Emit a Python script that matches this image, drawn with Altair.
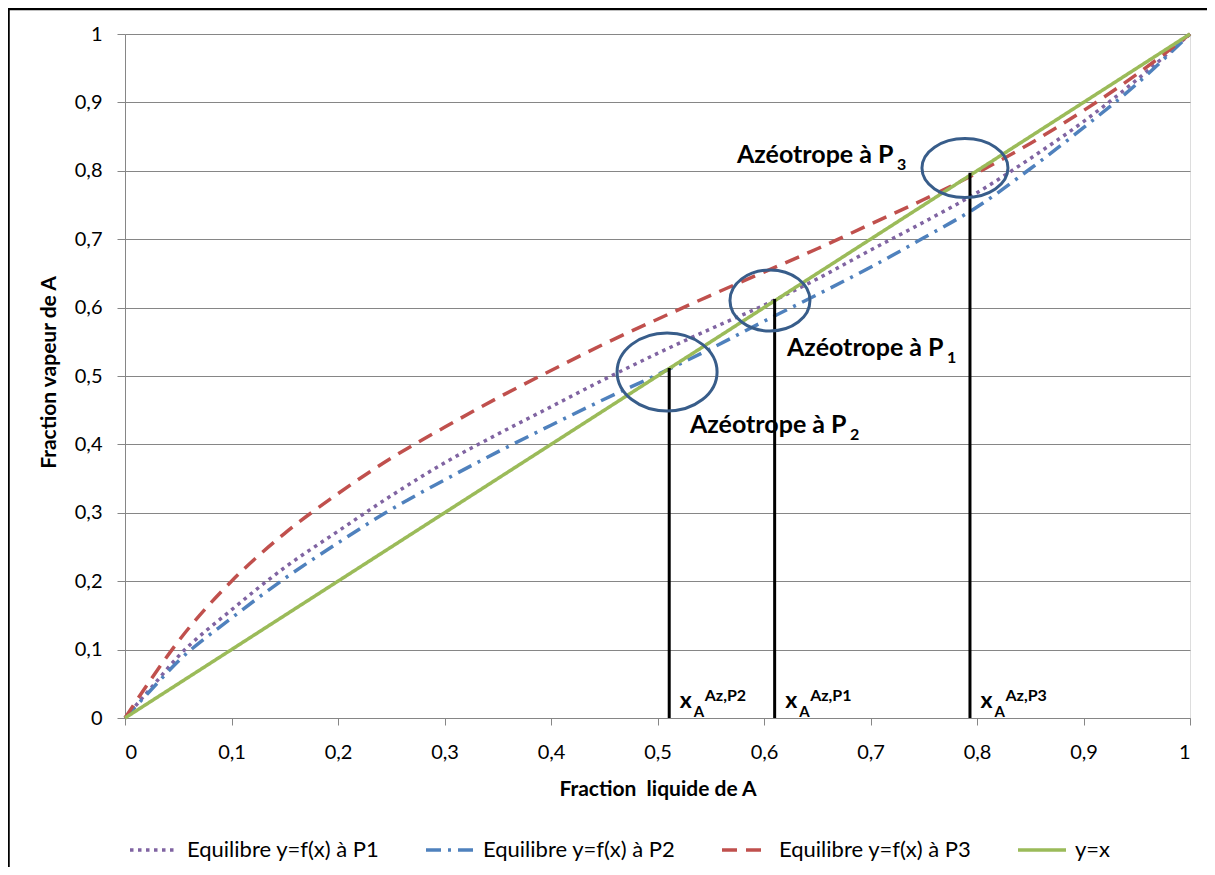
import altair as alt
import pandas as pd

# ---------------- data ----------------
x_eq = [0, 0.025, 0.05, 0.1, 0.15, 0.2, 0.25, 0.3, 0.35, 0.4, 0.45, 0.5,
        0.55, 0.6, 0.65, 0.7, 0.75, 0.8, 0.85, 0.9, 0.95, 1]
y_p1 = [0, 0.045, 0.09, 0.158, 0.220, 0.273, 0.325, 0.373, 0.415, 0.455, 0.495, 0.533,
        0.569, 0.6035, 0.642, 0.684, 0.725, 0.768, 0.818, 0.872, 0.933, 1]
y_p2 = [0, 0.042, 0.083, 0.146, 0.204, 0.256, 0.305, 0.348, 0.389, 0.428, 0.466, 0.502,
        0.540, 0.580, 0.619, 0.659, 0.702, 0.747, 0.803, 0.863, 0.927, 1]
y_p3 = [0, 0.058, 0.112, 0.200, 0.270, 0.328, 0.380, 0.425, 0.468, 0.508, 0.547, 0.583,
        0.618, 0.652, 0.686, 0.722, 0.758, 0.797, 0.840, 0.888, 0.941, 1]
x_id = [0, 1]
y_id = [0, 1]

series_names = ["Equilibre y=f(x) à P1", "Equilibre y=f(x) à P2",
                "Equilibre y=f(x) à P3", "y=x"]
series_colors = ["#8064A2", "#4F81BD", "#C0504D", "#9BBB59"]
series_dash = [[3.5, 4.5], [15, 7, 3, 7], [15, 9], [1, 0]]

# azeotrope annotations
az_x = [0.511, 0.610, 0.7934]
az_y = [0.5117, 0.6126, 0.797]
az_sup = ["Az,P2", "Az,P1", "Az,P3"]

# ellipse centres (data coords) and their pixel sizes (w, h)
ell_x = [0.509, 0.6056, 0.7887]
ell_y = [0.506, 0.6104, 0.804]
ell_w = [100, 80, 86]
ell_h = [78, 61, 59]

# "Azéotrope à P_n" labels
lab_x = [0.6216, 0.5305, 0.5746]
lab_y = [0.529, 0.4167, 0.8114]
lab_sub = ["1", "2", "3"]

ticks = [i / 10 for i in range(11)]

# ---------------- tables ----------------
rows = []
for name, ys in zip(series_names[:3], [y_p1, y_p2, y_p3]):
    for xv, yv in zip(x_eq, ys):
        rows.append({"series": name, "x": xv, "y": yv})
for xv, yv in zip(x_id, y_id):
    rows.append({"series": series_names[3], "x": xv, "y": yv})
lines_df = pd.DataFrame(rows)


def ellipse_path(r):
    k = 0.5523
    return (f"M-1,0C-1,{-k*r:.4f},{-k:.4f},{-r:.4f},0,{-r:.4f}"
            f"C{k:.4f},{-r:.4f},1,{-k*r:.4f},1,0"
            f"C1,{k*r:.4f},{k:.4f},{r:.4f},0,{r:.4f}"
            f"C{-k:.4f},{r:.4f},-1,{k*r:.4f},-1,0Z")


ell_df = pd.DataFrame({
    "x": ell_x, "y": ell_y,
    "shape": [ellipse_path(h / w) for w, h in zip(ell_w, ell_h)],
    "size": [w * w for w in ell_w],
})

rule_df = pd.DataFrame({"x": az_x, "y0": [0, 0, 0], "y1": az_y})
xa_df = pd.DataFrame({"x": [v + 10.5 / 1065 for v in az_x], "sup": az_sup})
lab_df = pd.DataFrame({"x": lab_x, "y": lab_y, "sub": lab_sub})

FONT = "Lato"
GRID = "#868686"

xscale = alt.Scale(domain=[0, 1], nice=False, zero=False)
yscale = alt.Scale(domain=[0, 1], nice=False, zero=False)
label_expr = "replace(toString(round(datum.value*10)/10), '.', ',')"

legend = alt.Legend(
    title=None, orient="none", legendX=3, legendY=790, direction="horizontal",
    symbolType="stroke", symbolSize=2304, symbolStrokeWidth=3.5,
    labelFont=FONT, labelFontSize=22, labelColor="#000000", labelOffset=7,
    columnPadding=39, padding=0, labelLimit=400,
)

base_lines = alt.Chart(lines_df).mark_line(strokeWidth=3.5, interpolate="monotone").encode(
    x=alt.X("x:Q", scale=xscale, axis=alt.Axis(
        values=ticks, labelExpr=label_expr, grid=False,
        tickSize=7, tickColor=GRID, domainColor=GRID,
        labelFont=FONT, labelFontSize=20, labelColor="#000000",
        labelBaseline="alphabetic", labelPadding=33,
        title="Fraction\u00a0 liquide de A", titleFont=FONT, titleFontSize=21,
        titleFontWeight="bold", titleColor="#000000",
        titleX=532.5, titleY=77, titleBaseline="alphabetic")),
    y=alt.Y("y:Q", scale=yscale, axis=alt.Axis(
        values=ticks, labelExpr=label_expr, grid=True, gridColor=GRID,
        tickSize=8, tickColor=GRID, domainColor=GRID,
        labelFont=FONT, labelFontSize=20, labelColor="#000000",
        labelPadding=15,
        title="Fraction vapeur de A", titleFont=FONT, titleFontSize=21,
        titleFontWeight="bold", titleColor="#000000",
        titleX=-70, titleY=338, titleBaseline="alphabetic")),
    color=alt.Color("series:N", scale=alt.Scale(domain=series_names, range=series_colors),
                    legend=legend),
    strokeDash=alt.StrokeDash("series:N", scale=alt.Scale(domain=series_names, range=series_dash),
                              legend=legend),
    order=alt.Order("x:Q"),
)

rules = alt.Chart(rule_df).mark_rule(color="#000000", strokeWidth=3).encode(
    x=alt.X("x:Q", scale=xscale), y=alt.Y("y0:Q", scale=yscale), y2="y1:Q")

ellipses = alt.Chart(ell_df).mark_point(filled=False, stroke="#385D8A", strokeWidth=3,
                                        opacity=1).encode(
    x=alt.X("x:Q", scale=xscale), y=alt.Y("y:Q", scale=yscale),
    shape=alt.Shape("shape:N", scale=None),
    size=alt.Size("size:Q", scale=None),
)

lab_main = alt.Chart(lab_df).mark_text(
    text="Azéotrope à P", font=FONT, fontSize=25, fontWeight="bold", align="left",
    baseline="alphabetic", color="#000000").encode(
    x=alt.X("x:Q", scale=xscale), y=alt.Y("y:Q", scale=yscale))
lab_subs = alt.Chart(lab_df).mark_text(
    font=FONT, fontSize=16, fontWeight="bold", align="left", baseline="alphabetic",
    dx=160, dy=7, color="#000000").encode(
    x=alt.X("x:Q", scale=xscale), y=alt.Y("y:Q", scale=yscale), text="sub:N")

xa_x = alt.Chart(xa_df).mark_text(
    text="x", font=FONT, fontSize=23, fontWeight="bold", align="left",
    baseline="alphabetic", dy=-10, color="#000000").encode(
    x=alt.X("x:Q", scale=xscale), y=alt.value(684))
xa_A = alt.Chart(xa_df).mark_text(
    text="A", font=FONT, fontSize=15, fontWeight="bold", align="left",
    baseline="alphabetic", dx=14, dy=-1, color="#000000").encode(
    x=alt.X("x:Q", scale=xscale), y=alt.value(684))
xa_sup = alt.Chart(xa_df).mark_text(
    font=FONT, fontSize=16, fontWeight="bold", align="left",
    baseline="alphabetic", dx=25, dy=-17, color="#000000").encode(
    x=alt.X("x:Q", scale=xscale), y=alt.value(684), text="sup:N")

frame = alt.Chart(pd.DataFrame({"a": [0]})).mark_rect(
    fill="transparent", stroke="#000000", strokeWidth=2.5).encode(
    x=alt.value(-116.5), x2=alt.value(1100), y=alt.value(-25), y2=alt.value(850))

chart = alt.layer(
    base_lines, rules, ellipses, lab_main, lab_subs, xa_x, xa_A, xa_sup, frame
).properties(
    width=1065, height=684,
    padding={"left": 117, "top": 26, "right": 17, "bottom": 149},
    autosize=alt.AutoSizeParams(type="none"),
).configure_view(stroke=None).configure(font=FONT)

chart.save("out.html", embed_options={"renderer": "svg", "actions": False})
